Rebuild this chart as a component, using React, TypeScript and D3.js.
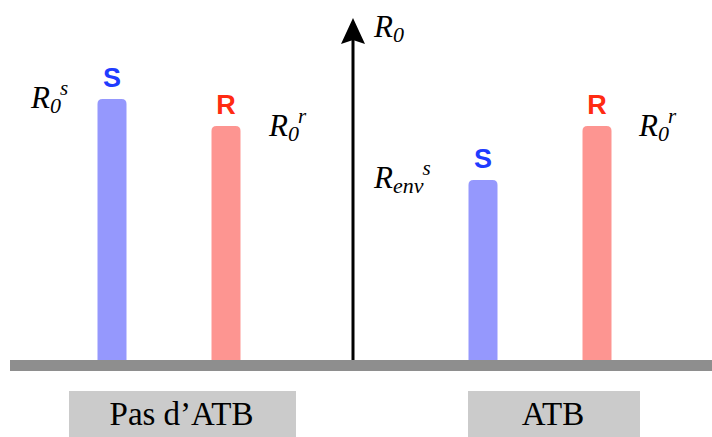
import React from "react";
import * as d3 from "d3";

const groups = ["Pas d’ATB", "ATB"];
const strains = ["S", "R"];
const valuesNoATB = [1.0, 0.897];
const valuesATB = [0.69, 0.897];
const axisMax = 1.31;

const W = 712, H = 437;
const blueBar = "#9598fd";
const redBar = "#fd9591";
const blueText = "#1f3cff";
const redText = "#ff2b12";

function topRounded(x: number, y: number, w: number, h: number, r: number) {
  return `M${x},${y + h}V${y + r}Q${x},${y} ${x + r},${y}H${x + w - r}Q${x + w},${y} ${x + w},${y + r}V${y + h}Z`;
}

export default function App() {
  const y = d3.scaleLinear().domain([0, 1]).range([360, 99]);
  const gx = d3.scalePoint<string>().domain(groups).range([169, 540]);
  const ix = d3.scalePoint<string>().domain(strains).range([-57, 57]);
  const barW = 29;
  const data = [valuesNoATB, valuesATB];
  const axisX = 353;
  const serif = "'Liberation Serif', 'DejaVu Serif', serif";
  const sans = "'Liberation Sans', Arial, sans-serif";

  const bars: any[] = [];
  groups.forEach((g, gi) => {
    strains.forEach((s, si) => {
      const v = data[gi][si];
      const cx = (gx(g) as number) + (ix(s) as number);
      const top = y(v);
      bars.push(
        <g key={g + s}>
          <path d={topRounded(cx - barW / 2, top, barW, y(0) - top, 5)} fill={s === "S" ? blueBar : redBar} />
          <text x={cx} y={top - 12} textAnchor="middle" fontFamily={sans} fontWeight="bold" fontSize={27} fill={s === "S" ? blueText : redText}>{s}</text>
        </g>
      );
    });
  });

  const label = (x: number, yb: number, sub: string, sup: string, key: string) => (
    <text key={key} x={x} y={yb} fontFamily={serif} fontStyle="italic" fontSize={31} fill="#000">
      R<tspan fontSize={22} dy={5}>{sub}</tspan>{sup ? <tspan fontSize={21} dy={-18} dx={-1}>{sup}</tspan> : null}
    </text>
  );

  const boxes = [
    { g: groups[0], x0: 69, x1: 296 },
    { g: groups[1], x0: 468, x1: 640 },
  ];

  const tipY = y(axisMax);
  return (
    <svg width={W} height={H} style={{ position: "absolute", left: 0, top: 0 }}>
      <rect x={0} y={0} width={W} height={H} fill="#fff" />
      <rect x={10} y={360} width={W - 10} height={11} fill="#8e8e8e" />
      {bars}
      <line x1={axisX} x2={axisX} y1={y(0)} y2={tipY + 20} stroke="#000" strokeWidth={3} />
      <path d={`M${axisX},${tipY}L${axisX - 12},${tipY + 26}L${axisX},${tipY + 22}L${axisX + 12},${tipY + 26}Z`} fill="#000" />
      {label(31, 108, "0", "s", "l1")}
      {label(269, 136, "0", "r", "l2")}
      {label(374, 37, "0", "", "l3")}
      {label(374, 188, "env", "s", "l4")}
      {label(639, 136, "0", "r", "l5")}
      {boxes.map((b) => (
        <g key={b.g}>
          <rect x={b.x0} y={391} width={b.x1 - b.x0} height={46} fill="#cbcbcb" />
          <text x={(b.x0 + b.x1) / 2 - 1} y={425} textAnchor="middle" fontFamily={serif} fontSize={33} fill="#000">{b.g}</text>
        </g>
      ))}
    </svg>
  );
}
